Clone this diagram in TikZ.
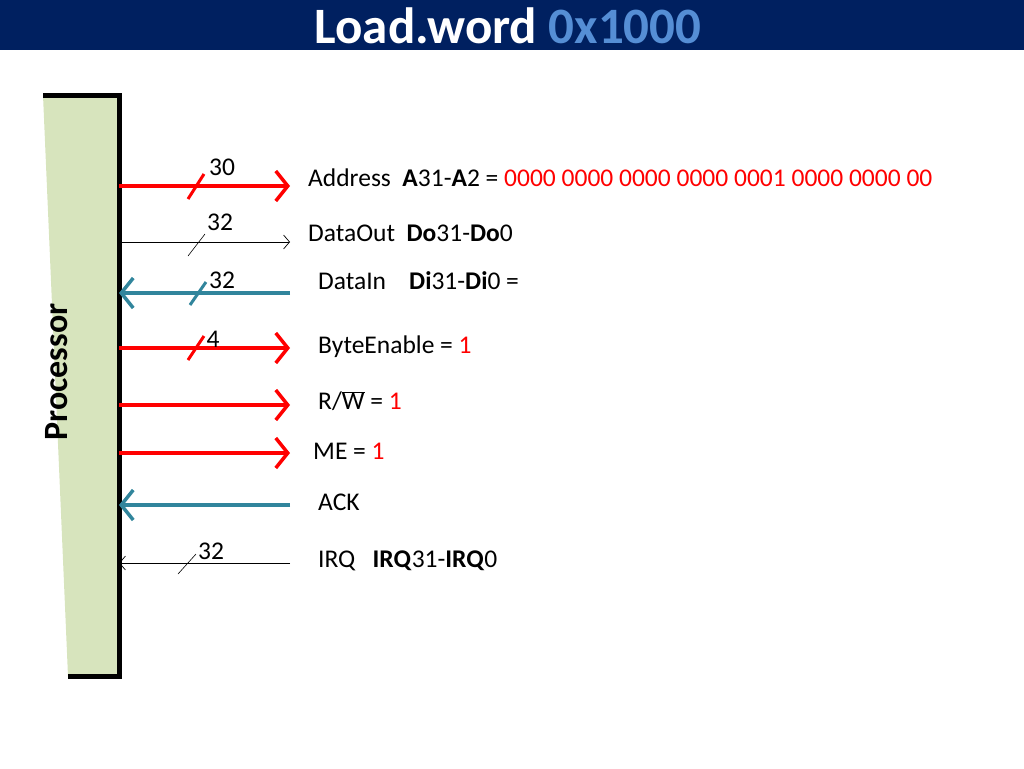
\documentclass[tikz,border=0pt]{standalone}
\usepackage{fontspec}
\setmainfont{Carlito}
\usetikzlibrary{arrows.meta}
\definecolor{navy}{HTML}{002060}
\definecolor{lblue}{HTML}{558ED5}
\definecolor{teal}{HTML}{31859C}
\definecolor{procg}{HTML}{D7E4BD}
\begin{document}
\begin{tikzpicture}[x=1pt,y=-1pt,
  sig/.style={line width=3.5pt,-{Straight Barb[length=12pt,width=30pt]}},
  thin/.style={line width=0.7pt,-{Straight Barb[length=6pt,width=14pt]}},
  lbl/.style={anchor=west,inner sep=0pt,font=\fontsize{25.5}{28}\selectfont},
  num/.style={inner sep=0pt,font=\fontsize{25.5}{28}\selectfont}]
\useasboundingbox (0,0) rectangle (1024,768);
\fill[navy] (0,0) rectangle (1024,50);
\node[inner sep=0pt,text=white,font=\fontsize{51}{55}\selectfont\bfseries] (title) at (508,26) {Load.word \textcolor{lblue}{0x1000}};
\fill[procg] (43,95) -- (119,95) -- (119,676) -- (68,676) -- cycle;
\draw[line width=5pt] (43,95) -- (119,95) -- (119,676) -- (68,676);
\node[rotate=90,inner sep=0pt,font=\fontsize{34}{38}\selectfont\bfseries] (proc) at (57,372) {Processor};
\foreach \n/\y in {a/186,b/242,c/293,d/348,e/405,f/453,g/505,h/563}{
  \coordinate (L\n) at (119,\y); \coordinate (R\n) at (290,\y);}
\draw[sig,red] (La) -- (Ra);
\draw[thin] (Lb) -- (Rb);
\draw[sig,teal] (Rc) -- (Lc);
\draw[sig,red] (Ld) -- (Rd);
\draw[sig,red] (Le) -- (Re);
\draw[sig,red] (Lf) -- (Rf);
\draw[sig,teal] (Rg) -- (Lg);
\draw[thin] (Rh) -- (Lh);
\draw[red,line width=3pt] (188,199) -- (204,174);
\draw[line width=0.6pt] (188,256) -- (205,234);
\draw[teal,line width=3pt] (190,305) -- (206,282);
\draw[red,line width=3pt] (188,360) -- (204,336);
\draw[line width=0.6pt] (178,574) -- (196,554);
\node[num] (n1) at (222,167) {30};
\node[num] (n2) at (220,222) {32};
\node[num] (n3) at (222,280) {32};
\node[num] (n4) at (213,339) {4};
\node[num] (n5) at (211,551) {32};
\node[lbl] (t1) at (308,178) {Address\ \ \textbf{A}31-\textbf{A}2 = \textcolor{red}{0000 0000 0000 0000 0001 0000 0000 00}};
\node[lbl] (t2) at (308,233) {DataOut\ \ \textbf{Do}31-\textbf{Do}0};
\node[lbl] (t3) at (318,281) {DataIn\ \ \ \ \textbf{Di}31-\textbf{Di}0 =};
\node[lbl] (t4) at (318,347) {ByteEnable = \textcolor{red}{1}};
\node[lbl] (t5) at (318,401) {R/$\overline{\mbox{W}}$ = \textcolor{red}{1}};
\node[lbl] (t6) at (313,451) {ME = \textcolor{red}{1}};
\node[lbl] (t7) at (318,502) {ACK};
\node[lbl] (t8) at (318,561) {IRQ\ \ \ \textbf{IRQ}31-\textbf{IRQ}0};
\end{tikzpicture}
\end{document}
